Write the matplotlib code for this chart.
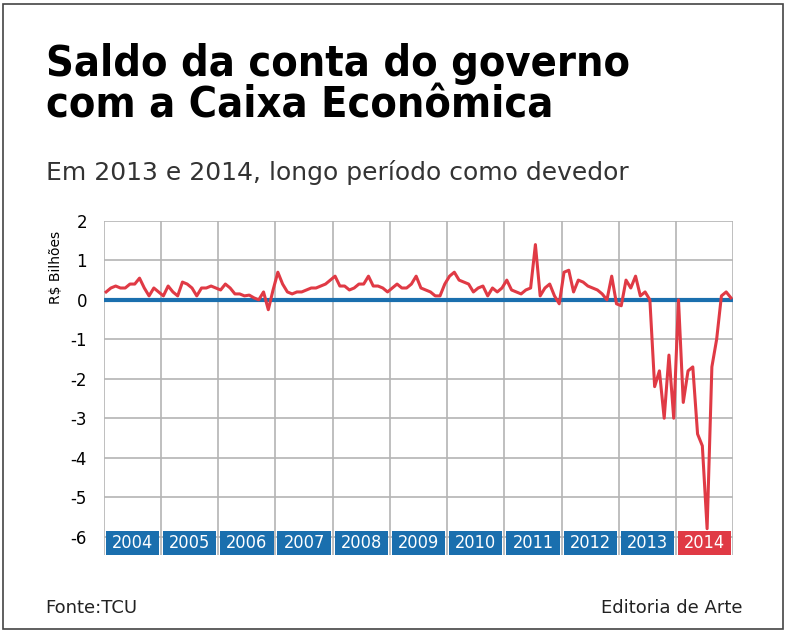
import matplotlib
matplotlib.use('Agg')
import matplotlib.pyplot as plt
from matplotlib.patches import Rectangle
import numpy as np

years = ['2004', '2005', '2006', '2007', '2008', '2009', '2010', '2011', '2012', '2013', '2014']
saldo = [
    0.2, 0.3, 0.35, 0.3, 0.3, 0.4, 0.4, 0.55, 0.3, 0.1, 0.3, 0.2,
    0.1, 0.35, 0.2, 0.1, 0.45, 0.4, 0.3, 0.1, 0.3, 0.3, 0.35, 0.3,
    0.25, 0.4, 0.3, 0.15, 0.15, 0.1, 0.12, 0.05, 0.0, 0.2, -0.25, 0.25,
    0.7, 0.4, 0.2, 0.15, 0.2, 0.2, 0.25, 0.3, 0.3, 0.35, 0.4, 0.5,
    0.6, 0.35, 0.35, 0.25, 0.3, 0.4, 0.4, 0.6, 0.35, 0.35, 0.3, 0.2,
    0.3, 0.4, 0.3, 0.3, 0.4, 0.6, 0.3, 0.25, 0.2, 0.1, 0.1, 0.4,
    0.6, 0.7, 0.5, 0.45, 0.4, 0.2, 0.3, 0.35, 0.1, 0.3, 0.2, 0.3,
    0.5, 0.25, 0.2, 0.15, 0.25, 0.3, 1.4, 0.1, 0.3, 0.4, 0.1, -0.1,
    0.7, 0.75, 0.2, 0.5, 0.45, 0.35, 0.3, 0.25, 0.15, 0.0, 0.6, -0.1,
    -0.15, 0.5, 0.3, 0.6, 0.1, 0.2, 0.0, -2.2, -1.8, -3.0, -1.4, -3.0,
    0.0, -2.6, -1.8, -1.7, -3.4, -3.7, -5.8, -1.7, -1.0, 0.1, 0.2, 0.05,
]
yticks = [2, 1, 0, -1, -2, -3, -4, -5, -6]

blue = '#1a6fae'
red = '#e03a45'
grid = '#b4b4b4'

fig = plt.figure(figsize=(7.86, 6.33), dpi=100)
fig.patches.append(Rectangle((0.004, 0.006), 0.992, 0.988, transform=fig.transFigure,
                             fill=False, edgecolor='#444444', linewidth=1.2))

fig.text(0.058, 0.866, 'Saldo da conta do governo\ncom a Caixa Econômica', fontsize=31,
         fontweight='bold', family='DejaVu Sans', stretch='condensed', va='center',
         linespacing=1.0)
fig.text(0.058, 0.728, 'Em 2013 e 2014, longo período como devedor', fontsize=18,
         color='#333333', va='center')
fig.text(0.058, 0.04, 'Fonte:TCU', fontsize=13, color='#222222', va='center')
fig.text(0.945, 0.04, 'Editoria de Arte', fontsize=13, color='#222222', va='center', ha='right')

ax = fig.add_axes([0.132, 0.123, 0.801, 0.528])
n = len(years) * 12
x = np.arange(len(saldo)) + 0.5
ax.set_xlim(0, n)
ax.set_ylim(-6.47, 2)
for v in range(0, n + 1, 12):
    ax.axvline(v, color=grid, lw=1.2, zorder=1)
for v in yticks:
    ax.axhline(v, color=grid, lw=1.2, zorder=1)
ax.axhline(0, color=blue, lw=3, zorder=2)
ax.plot(x, saldo, color=red, lw=2.2, zorder=3)

for i, yr in enumerate(years):
    c = red if yr == '2014' else blue
    ax.add_patch(Rectangle((i * 12 + 0.4, -6.47), 11.2, 0.62, facecolor=c, edgecolor='none', zorder=4))
    ax.text(i * 12 + 6, -6.16, yr, color='white', ha='center', va='center', fontsize=13,
            family='DejaVu Sans', stretch='condensed', zorder=5)

ax.set_yticks(yticks)
ax.set_yticklabels([str(v) for v in yticks], fontsize=12)
ax.set_xticks([])
ax.tick_params(axis='y', length=0, pad=12)
for s in ax.spines.values():
    s.set_visible(False)
ax.set_ylabel('R$ Bilhões', fontsize=10)
ax.yaxis.set_label_coords(-0.065, 0.86)

fig.savefig('out.png', dpi=100)
